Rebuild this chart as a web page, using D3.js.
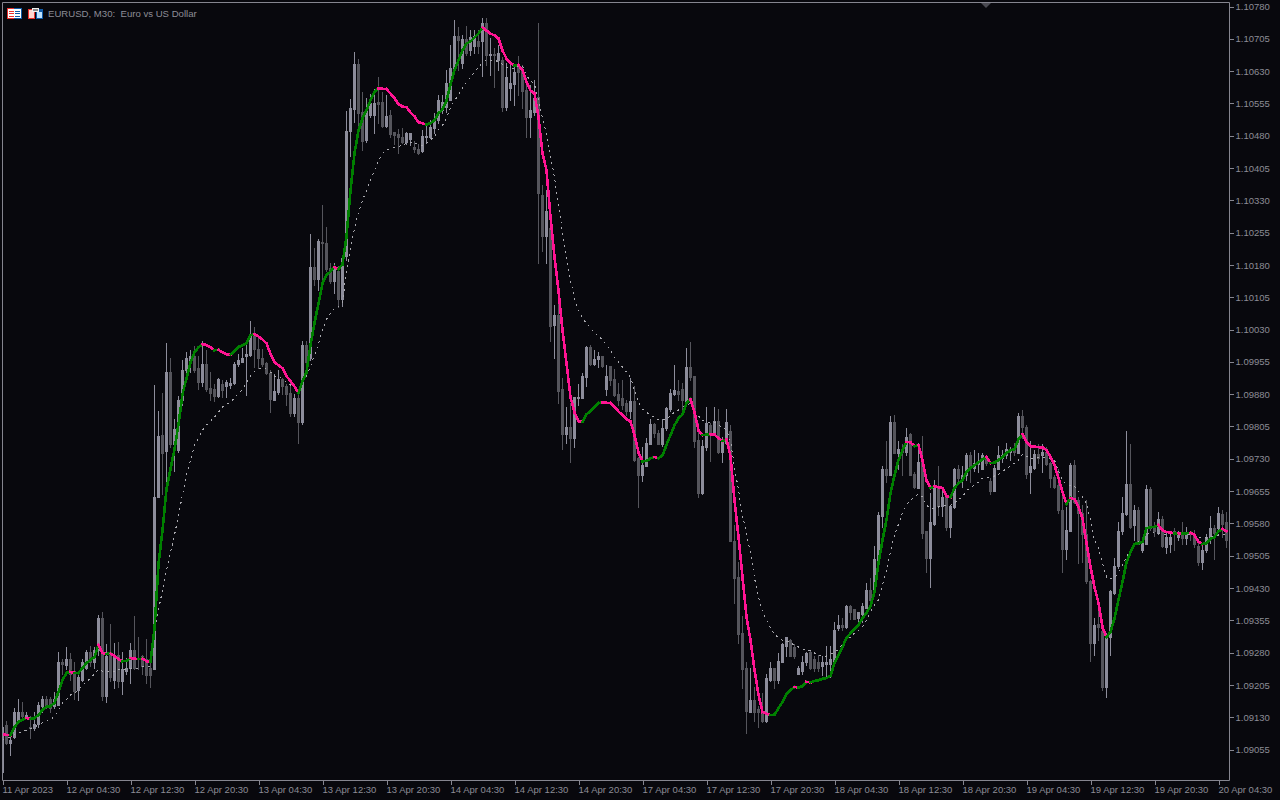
<!DOCTYPE html>
<html><head><meta charset="utf-8">
<script src="https://cdn.jsdelivr.net/npm/d3@7"></script>
<style>
html,body{margin:0;padding:0;background:#08080d;overflow:hidden}
svg{display:block}
text{font-family:"Liberation Sans",Arial,sans-serif;font-size:9.5px;fill:#8c8c96}
</style></head><body>
<svg id="c" width="1280" height="800"></svg>
<script>
// All prices are in points above 1.09000 (1 point = 0.00001)
const symbolTitle = "EURUSD, M30:  Euro vs US Dollar";
const priceTicks = ["1.10780","1.10705","1.10630","1.10555","1.10480","1.10405","1.10330","1.10255","1.10180","1.10105","1.10030","1.09955","1.09880","1.09805","1.09730","1.09655","1.09580","1.09505","1.09430","1.09355","1.09280","1.09205","1.09130","1.09055"];
const timeTicks = ["11 Apr 2023","12 Apr 04:30","12 Apr 12:30","12 Apr 20:30","13 Apr 04:30","13 Apr 12:30","13 Apr 20:30","14 Apr 04:30","14 Apr 12:30","14 Apr 20:30","17 Apr 04:30","17 Apr 12:30","17 Apr 20:30","18 Apr 04:30","18 Apr 12:30","18 Apr 20:30","19 Apr 04:30","19 Apr 12:30","19 Apr 20:30","20 Apr 04:30"];
const barsPerTick = 16;
const highs = [107,121,89,151,172,163,140,131,140,163,
179,177,175,188,281,265,291,279,258,235,
265,286,293,291,365,374,298,346,302,304,
281,267,302,363,316,274,311,270,901,840,
882,998,963,820,875,959,977,982,991,968,
1003,982,931,903,917,912,912,917,954,973,
987,1001,1049,1035,1012,984,954,936,926,936,
917,903,908,880,880,1003,1003,1251,1219,1240,
1318,1267,1184,1184,1177,1202,1536,1564,1673,1657,
1581,1567,1576,1588,1615,1581,1574,1539,1488,1495,
1497,1488,1485,1467,1460,1492,1509,1516,1532,1574,
1574,1632,1690,1748,1731,1713,1734,1724,1724,1724,
1752,1752,1706,1683,1690,1662,1648,1643,1643,1664,
1643,1608,1597,1608,1741,1365,1353,1307,1086,1098,
917,850,859,873,903,929,991,994,982,977,
968,947,945,938,905,912,866,917,898,734,
755,778,820,813,796,822,850,891,947,912,
905,987,1001,922,813,773,850,813,850,845,
780,845,808,576,488,363,258,244,198,154,
186,230,258,242,279,300,316,311,298,247,
270,281,284,270,274,270,295,293,349,365,
360,390,390,381,374,395,441,453,527,606,
711,771,829,831,769,762,801,789,699,766,
782,560,650,680,713,662,646,622,708,715,
711,743,745,750,743,743,738,685,715,759,
750,766,755,766,836,843,808,769,750,762,
762,757,722,692,704,650,618,720,727,639,
622,634,448,360,402,339,325,425,499,581,
641,794,762,622,618,546,669,664,581,606,
595,557,557,569,560,581,571,560,564,534,
530,553,595,576,618,611,606];
const lows = [-6,66,42,80,117,128,126,80,100,107,
140,151,140,151,158,228,240,216,170,168,
212,240,247,244,274,168,163,212,196,200,
182,228,209,240,240,228,209,198,240,641,
648,669,757,701,745,854,931,931,931,891,
898,887,866,864,873,873,873,894,903,945,
954,878,968,943,940,945,926,838,866,880,
880,854,829,829,766,810,936,959,1133,1121,
1147,1165,1137,1114,1082,1084,1191,1432,1511,1497,
1446,1465,1523,1485,1509,1499,1499,1476,1460,1439,
1462,1460,1458,1441,1437,1441,1462,1474,1485,1509,
1532,1534,1562,1634,1632,1636,1666,1666,1671,1671,
1618,1643,1620,1592,1632,1536,1539,1562,1550,1574,
1543,1476,1476,1527,1184,1212,1184,1003,963,859,
752,766,722,755,854,871,898,947,947,943,
943,878,901,875,854,845,831,824,724,618,
678,711,762,780,762,759,796,840,878,866,
845,861,912,755,641,648,750,724,789,743,
722,766,537,393,302,196,93,140,119,107,
117,117,214,196,209,258,270,270,267,228,
228,251,240,235,235,226,223,223,258,332,
332,337,356,356,351,349,383,388,418,490,
571,676,690,743,704,692,738,690,660,660,
546,465,430,576,599,595,564,548,615,673,
664,680,676,701,697,704,715,646,653,704,
722,731,727,738,743,778,685,650,706,720,
699,715,664,662,604,465,495,560,627,486,
490,441,260,274,309,193,175,274,414,476,
555,599,569,541,530,513,530,564,550,553,
525,511,513,516,541,530,530,541,525,483,
472,513,534,495,564,548,525];
const opens = [1,110,70,82,121,142,131,105,103,112,
154,170,170,154,158,256,251,263,235,191,
216,244,281,256,286,360,177,274,216,274,
214,235,244,284,267,270,263,242,240,641,
785,748,931,762,750,866,936,954,968,940,
908,950,894,891,875,903,898,901,905,950,
954,968,970,1021,984,963,952,929,866,884,
915,898,882,836,871,815,994,963,1175,1147,
1233,1230,1172,1142,1165,1100,1200,1490,1541,1646,
1534,1469,1527,1527,1557,1557,1502,1527,1488,1483,
1476,1465,1472,1453,1448,1444,1476,1476,1497,1516,
1539,1546,1562,1636,1710,1648,1704,1678,1687,1699,
1699,1741,1666,1669,1655,1655,1546,1590,1599,1643,
1632,1585,1523,1534,1569,1342,1246,1265,1040,1063,
891,787,803,778,871,871,919,989,950,961,
968,891,945,915,880,871,859,840,864,731,
692,713,764,810,789,764,801,845,880,885,
891,864,943,922,773,650,755,808,789,817,
745,766,794,539,455,325,242,142,168,147,
142,119,216,242,216,258,293,309,291,230,
235,256,281,263,258,247,253,253,260,335,
344,339,386,381,358,369,383,425,421,492,
597,706,692,815,743,750,745,787,694,662,
722,560,499,578,662,620,639,571,618,706,
680,692,738,708,717,706,736,678,655,706,
731,738,745,750,743,829,803,697,708,741,
738,745,720,687,669,611,520,562,715,634,
604,555,444,302,346,328,198,314,418,479,
560,601,671,574,611,516,532,659,571,557,
590,525,530,560,548,557,546,557,550,527,
490,518,548,569,567,601,581];
const closes = [107,70,77,142,142,131,135,103,114,156,
170,154,151,170,256,253,265,228,189,221,
258,281,256,286,360,177,270,223,274,214,
240,244,284,244,263,247,226,226,641,782,
743,931,762,799,866,936,963,968,936,908,
950,891,882,875,915,889,908,905,950,959,
963,973,1019,984,963,950,929,868,887,915,
898,880,836,871,815,994,954,1175,1147,1235,
1230,1170,1142,1175,1100,1195,1490,1543,1646,1532,
1467,1541,1555,1555,1553,1502,1525,1483,1481,1476,
1465,1485,1485,1448,1439,1478,1478,1499,1513,1562,
1557,1601,1636,1710,1701,1704,1671,1708,1710,1687,
1741,1666,1669,1666,1671,1546,1615,1601,1627,1627,
1583,1523,1539,1567,1346,1246,1304,1038,1063,887,
787,803,778,873,873,922,989,950,961,968,
945,922,912,878,866,854,840,864,727,692,
715,766,810,789,764,801,847,882,889,880,
866,943,919,771,650,759,813,789,817,745,
769,815,537,453,323,240,144,168,140,140,
119,219,242,216,260,298,314,270,270,242,
258,279,242,242,244,256,256,263,332,344,
339,386,374,356,372,388,425,402,495,599,
706,692,815,743,752,745,780,692,664,722,
557,499,581,662,620,641,571,620,704,685,
692,738,708,720,722,738,720,655,708,738,
738,752,752,745,829,803,694,711,741,731,
745,717,685,664,611,520,564,715,629,604,
553,444,302,344,339,198,316,421,479,562,
604,671,571,611,532,534,659,569,560,590,
527,548,548,555,553,546,555,555,530,488,
518,548,569,557,604,578,541];
const fastLine = [90,89,88,107,119,124,128,126,128,135,
147,154,156,163,189,216,233,235,233,233,
244,256,263,270,298,279,277,278,272,265,
260,261,267,266,265,266,260,258,335,486,
564,660,706,752,810,880,917,954,977,989,
996,994,989,982,983,977,973,972,980,989,
994,998,1017,1019,1014,1007,998,973,954,947,
940,922,910,898,882,910,931,994,1045,1091,
1137,1156,1165,1175,1170,1182,1246,1353,1439,1492,
1520,1539,1562,1581,1590,1589,1588,1578,1567,1553,
1548,1546,1534,1525,1511,1509,1506,1509,1516,1532,
1541,1562,1599,1632,1655,1678,1694,1699,1708,1717,
1731,1724,1717,1713,1706,1678,1659,1648,1643,1644,
1632,1604,1585,1578,1523,1439,1400,1291,1198,1121,
1028,952,873,838,817,816,833,840,850,859,
861,860,859,850,840,831,822,817,785,745,
724,725,731,734,731,738,762,785,808,824,
833,859,868,838,796,785,786,787,786,778,
771,775,736,634,548,455,363,309,240,182,
142,138,135,136,151,165,184,193,200,199,
202,212,211,214,216,219,221,226,256,274,
293,314,325,335,344,360,372,388,421,488,
541,588,650,692,727,750,769,768,759,762,
727,680,662,666,664,662,643,641,662,673,
680,699,708,715,722,729,734,720,721,727,
734,743,750,752,775,787,769,759,758,757,
756,750,734,715,685,653,625,639,636,618,
592,534,479,432,395,339,316,328,360,402,
444,490,513,532,534,537,569,571,572,576,
564,560,559,557,557,556,557,558,553,537,
532,534,544,548,562,567,562];
const slowLine = [77,82,84,89,93,96,100,103,107,112,
117,121,124,133,144,163,170,182,186,193,
205,212,221,230,242,237,235,235,237,240,
240,240,242,244,244,247,247,247,330,379,
425,472,513,553,599,646,692,727,762,778,
796,808,817,827,838,850,857,861,871,882,
891,905,922,933,938,940,938,931,922,922,
915,908,901,898,885,908,922,945,970,998,
1028,1054,1068,1079,1084,1091,1168,1219,1265,1302,
1330,1353,1376,1400,1423,1439,1446,1451,1453,1455,
1458,1462,1465,1465,1458,1458,1462,1471,1476,1495,
1504,1520,1546,1562,1574,1590,1604,1615,1629,1639,
1650,1655,1655,1655,1652,1646,1639,1634,1636,1641,
1643,1620,1608,1599,1562,1520,1485,1434,1383,1318,
1256,1195,1144,1103,1075,1056,1045,1033,1021,1017,
1005,994,982,966,954,943,931,919,889,861,
845,838,831,827,820,820,822,829,838,843,
850,854,859,843,829,820,815,813,815,808,
803,796,771,711,657,599,557,511,453,409,
374,356,337,323,314,309,307,302,298,293,
288,286,284,279,274,272,272,277,281,288,
298,309,316,325,332,339,356,374,390,402,
437,472,513,553,578,604,622,634,641,648,
641,622,615,615,618,622,622,622,627,636,
641,657,662,669,676,685,687,687,690,694,
699,708,713,720,727,741,736,731,731,734,
734,734,731,727,701,680,669,669,666,655,
641,627,588,541,523,488,455,451,453,467,
483,502,518,530,537,541,553,560,557,557,
553,553,555,557,555,555,555,553,550,548,
548,546,548,550,553,553,553];

const BG="#08080d", FRAME="#85858f", UP="#8d8d9b", DOWN="#55555c", RISE="#008000", FALL="#ff1493", SLOW="#a8a8ae";
const svg=d3.select("#c");
svg.append("rect").attr("width",1280).attr("height",800).attr("fill",BG);
const L=2,T=2,R=1229,B=780;
const pts=s=>Math.round((parseFloat(s)-1.09)*1e5);
const y=d3.scaleLinear().domain([pts("1.09055"),pts("1.10780")]).range([749,6]);
const x=d3.scaleLinear().domain([0,highs.length-1]).range([2,2+4*(highs.length-1)]);
const py=v=>Math.round(y(v));

svg.append("clipPath").attr("id","plot").append("rect").attr("x",L+1).attr("y",T+1).attr("width",R-L-1).attr("height",B-T-1);
const g=svg.append("g").attr("clip-path","url(#plot)");

const idx=d3.range(highs.length);
const color=i=>closes[i]>=opens[i]?UP:DOWN;
g.append("g").selectAll("rect").data(idx).join("rect")
 .attr("x",i=>x(i)).attr("width",1)
 .attr("y",i=>py(highs[i])).attr("height",i=>Math.max(1,py(lows[i])-py(highs[i])+1))
 .attr("fill",color).attr("shape-rendering","crispEdges");
g.append("g").selectAll("rect").data(idx).join("rect")
 .attr("x",i=>x(i)-1).attr("width",3)
 .attr("y",i=>py(Math.max(opens[i],closes[i])))
 .attr("height",i=>Math.max(1,py(Math.min(opens[i],closes[i]))-py(Math.max(opens[i],closes[i]))+1))
 .attr("fill",color).attr("shape-rendering","crispEdges");

const lineGen=d3.line().x(i=>x(i)+0.5).y(i=>y(slowLine[i])+0.5);
g.append("path").attr("d",lineGen(idx)).attr("fill","none").attr("stroke",SLOW)
 .attr("stroke-width",1).attr("stroke-dasharray","2 4").attr("shape-rendering","crispEdges");

const fastGen=d3.line().x(i=>x(i)+0.5).y(i=>y(fastLine[i])+0.5);
g.append("g").selectAll("path").data(idx.slice(1)).join("path")
 .attr("d",i=>fastGen([i-1,i])).attr("fill","none")
 .attr("stroke",i=>fastLine[i]>=fastLine[i-1]?RISE:FALL)
 .attr("stroke-width",2.6).attr("stroke-linecap","square").attr("shape-rendering","crispEdges");

// frame
svg.append("path").attr("d",`M${L+.5},${B+.5}V${T+.5}H${R+.5}V${B+.5}H${L+.5}`).attr("fill","none").attr("stroke",FRAME).attr("stroke-width",1);

// axes
const yAxis=d3.axisRight(y).tickValues(priceTicks.map(pts)).tickFormat(v=>priceTicks.find(s=>pts(s)===v)).tickSize(4).tickPadding(2);
const ya=svg.append("g").attr("transform",`translate(${R+.5},0.5)`).call(yAxis);
ya.select(".domain").remove();
ya.selectAll("line").attr("stroke",FRAME).attr("shape-rendering","crispEdges");
ya.selectAll("text").attr("fill","#8c8c96").attr("dy","0.33em");

const xTickVals=timeTicks.map((_,k)=>k*barsPerTick);
const xAxis=d3.axisBottom(x).tickValues(xTickVals).tickFormat((v,k)=>timeTicks[k]).tickSize(4).tickPadding(2);
const xa=svg.append("g").attr("transform",`translate(0.5,${B+.5})`).call(xAxis);
xa.select(".domain").remove();
xa.selectAll("line").attr("stroke",FRAME).attr("shape-rendering","crispEdges");
xa.selectAll("text").attr("fill","#8c8c96").attr("text-anchor","start").attr("x",-0.5).attr("y",6).attr("dy","0.71em");

// header
const ic=svg.append("g").attr("shape-rendering","crispEdges");
const r=(a,b,w,h,f)=>ic.append("rect").attr("x",a).attr("y",b).attr("width",w).attr("height",h).attr("fill",f);
r(7,8,7,11,"#e8302c");r(14,8,8,11,"#0f5aa6");r(8,9,6,9,"#fff");r(14,9,7,9,"#fff");
[10.5,13,15.5].forEach(v=>{r(9,v,5,1,"#e8302c");r(15,v,5,1,"#0f5aa6");});
r(28,9,7,10,"#e8302c");r(36,9,7,10,"#0f5aa6");r(29,10,5,8,"#ffd6d0");r(37,12,5,6,"#bfe3ff");
r(32,8,7,4,"#f0f0f0");r(33,9,5,2,"#888");
svg.append("text").attr("x",48).attr("y",17).style("white-space","pre").style("font-size","9.6px").text(symbolTitle);
svg.append("path").attr("d",d3.line()([[981,3],[991,3],[986,8]])+"Z").attr("fill","#4a4a52");
</script>
</body></html>
